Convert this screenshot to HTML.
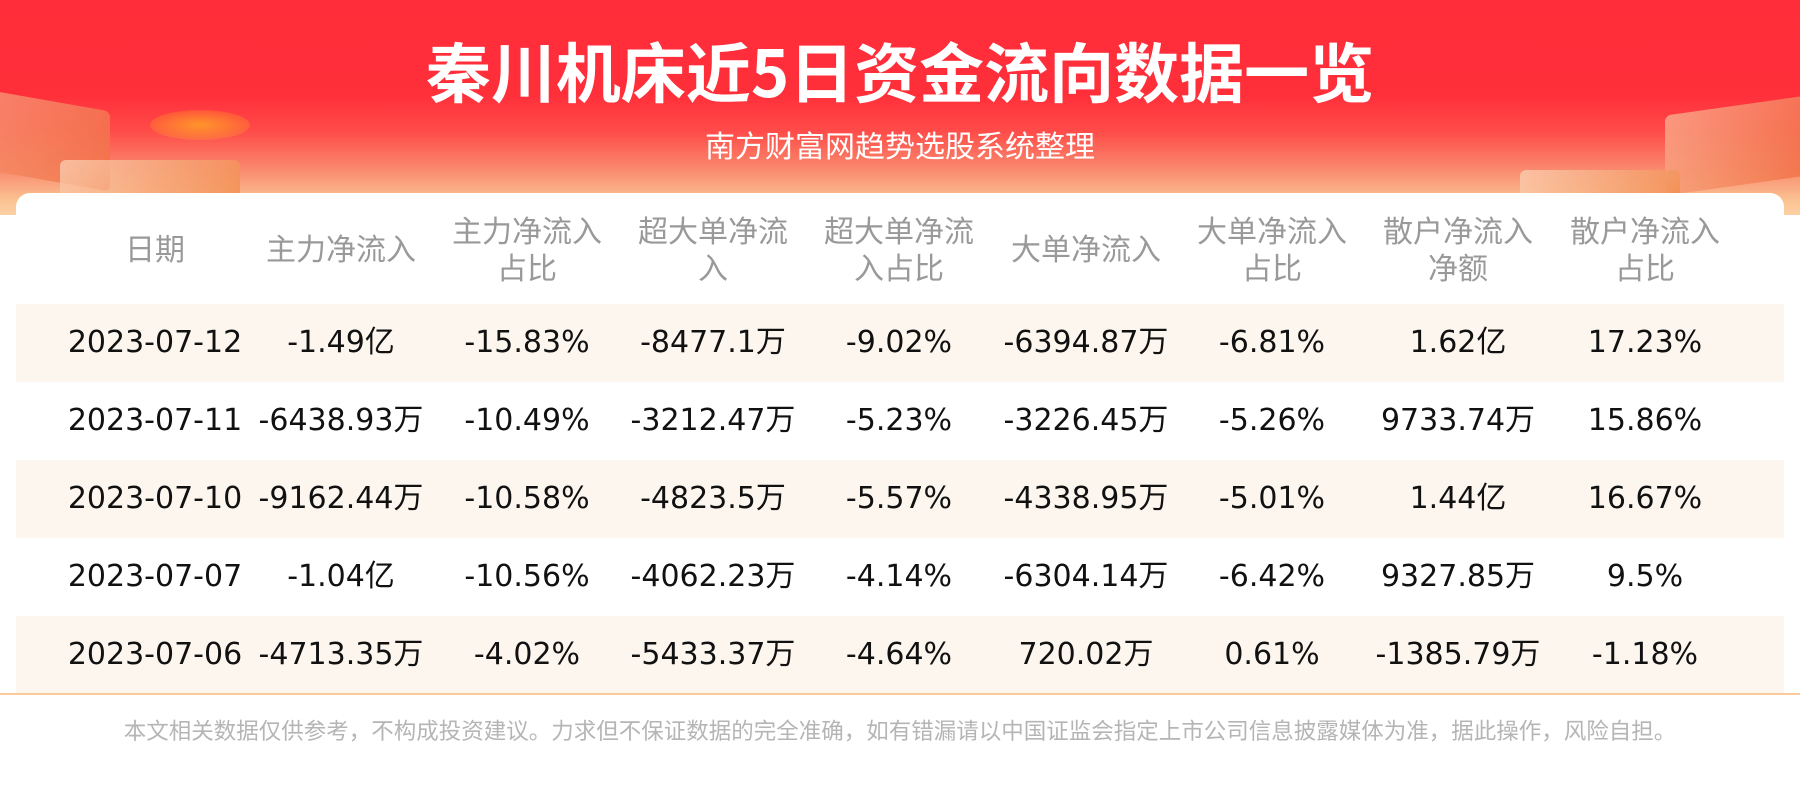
<!DOCTYPE html>
<html><head><meta charset="utf-8"><style>
html,body{margin:0;padding:0}
body{width:1800px;height:800px;position:relative;overflow:hidden;background:#fff;font-family:"DejaVu Sans","Noto Sans CJK SC",sans-serif}
.bg{position:absolute;left:0;top:0;width:1800px;height:215px;background:linear-gradient(180deg,#ff2d39 0px,#ff2f3a 95px,#ff4a48 130px,#f98a6e 170px,#fbc291 200px,#fcd0a4 215px)}
.deco{position:absolute;border-radius:6px;opacity:.75}
.title{position:absolute;left:0;width:1800px;top:29px;text-align:center;color:#fff;font-family:"Noto Sans CJK SC",sans-serif;font-weight:bold;font-size:65px;line-height:80px}
.sub{position:absolute;left:0;width:1800px;top:123px;text-align:center;color:#fff;font-family:"Noto Sans CJK SC",sans-serif;font-size:30px;line-height:42px}
.card{position:absolute;left:16px;top:193px;width:1768px;height:500px;background:#fff;border-radius:14px 14px 0 0}
.band{position:absolute;left:16px;width:1768px;height:78px;background:#fdf6ef}
.line{position:absolute;left:0;top:693px;width:1800px;height:2px;background:#fcc99a}
.row{position:absolute;left:0;height:40px}
.cell{position:absolute;width:186px;text-align:center;font-size:30px;color:#111;line-height:40px;white-space:nowrap}
.hd{position:absolute;width:186px;text-align:center;font-family:"Noto Sans CJK SC",sans-serif;font-size:30px;color:#999;line-height:37px}
.foot{position:absolute;left:0;width:1800px;top:714px;text-align:center;color:#b5b5b5;font-family:"Noto Sans CJK SC",sans-serif;font-size:22.5px;line-height:32px}
</style></head><body>
<div class="bg"></div>
<div class="deco" style="left:-20px;top:100px;width:130px;height:80px;background:linear-gradient(135deg,#f7a080,#f06a3c);transform:skewY(10deg)"></div>
<div class="deco" style="left:60px;top:160px;width:180px;height:40px;background:linear-gradient(135deg,#fbd2b6,#f28a4a)"></div>
<div class="deco" style="left:150px;top:110px;width:100px;height:30px;border-radius:50%;background:radial-gradient(#ffb020,rgba(255,120,40,0))"></div>
<div class="deco" style="left:1665px;top:105px;width:150px;height:80px;background:linear-gradient(135deg,#f9b595,#f06a3c);transform:skewY(-8deg)"></div>
<div class="deco" style="left:1520px;top:170px;width:160px;height:30px;background:linear-gradient(135deg,#fbd2b6,#f28a4a)"></div>
<div class="title">秦川机床近5日资金流向数据一览</div>
<div class="sub">南方财富网趋势选股系统整理</div>
<div class="card"></div>
<div class="band" style="top:304px"></div>
<div class="band" style="top:460px"></div>
<div class="band" style="top:616px"></div>
<div class="line"></div>

<div class="hd" style="left:62px;top:229px">日期</div>
<div class="hd" style="left:248px;top:229px">主力净流入</div>
<div class="hd" style="left:434px;top:211px">主力净流入<br>占比</div>
<div class="hd" style="left:620px;top:211px">超大单净流<br>入</div>
<div class="hd" style="left:806px;top:211px">超大单净流<br>入占比</div>
<div class="hd" style="left:993px;top:229px">大单净流入</div>
<div class="hd" style="left:1179px;top:211px">大单净流入<br>占比</div>
<div class="hd" style="left:1365px;top:211px">散户净流入<br>净额</div>
<div class="hd" style="left:1552px;top:211px">散户净流入<br>占比</div>

<div class="row" style="top:323px">
<div class="cell" style="left:62px">2023-07-12</div><div class="cell" style="left:248px">-1.49亿</div><div class="cell" style="left:434px">-15.83%</div><div class="cell" style="left:620px">-8477.1万</div><div class="cell" style="left:806px">-9.02%</div><div class="cell" style="left:993px">-6394.87万</div><div class="cell" style="left:1179px">-6.81%</div><div class="cell" style="left:1365px">1.62亿</div><div class="cell" style="left:1552px">17.23%</div>
</div>
<div class="row" style="top:401px">
<div class="cell" style="left:62px">2023-07-11</div><div class="cell" style="left:248px">-6438.93万</div><div class="cell" style="left:434px">-10.49%</div><div class="cell" style="left:620px">-3212.47万</div><div class="cell" style="left:806px">-5.23%</div><div class="cell" style="left:993px">-3226.45万</div><div class="cell" style="left:1179px">-5.26%</div><div class="cell" style="left:1365px">9733.74万</div><div class="cell" style="left:1552px">15.86%</div>
</div>
<div class="row" style="top:479px">
<div class="cell" style="left:62px">2023-07-10</div><div class="cell" style="left:248px">-9162.44万</div><div class="cell" style="left:434px">-10.58%</div><div class="cell" style="left:620px">-4823.5万</div><div class="cell" style="left:806px">-5.57%</div><div class="cell" style="left:993px">-4338.95万</div><div class="cell" style="left:1179px">-5.01%</div><div class="cell" style="left:1365px">1.44亿</div><div class="cell" style="left:1552px">16.67%</div>
</div>
<div class="row" style="top:557px">
<div class="cell" style="left:62px">2023-07-07</div><div class="cell" style="left:248px">-1.04亿</div><div class="cell" style="left:434px">-10.56%</div><div class="cell" style="left:620px">-4062.23万</div><div class="cell" style="left:806px">-4.14%</div><div class="cell" style="left:993px">-6304.14万</div><div class="cell" style="left:1179px">-6.42%</div><div class="cell" style="left:1365px">9327.85万</div><div class="cell" style="left:1552px">9.5%</div>
</div>
<div class="row" style="top:635px">
<div class="cell" style="left:62px">2023-07-06</div><div class="cell" style="left:248px">-4713.35万</div><div class="cell" style="left:434px">-4.02%</div><div class="cell" style="left:620px">-5433.37万</div><div class="cell" style="left:806px">-4.64%</div><div class="cell" style="left:993px">720.02万</div><div class="cell" style="left:1179px">0.61%</div><div class="cell" style="left:1365px">-1385.79万</div><div class="cell" style="left:1552px">-1.18%</div>
</div>
<div class="foot">本文相关数据仅供参考，不构成投资建议。力求但不保证数据的完全准确，如有错漏请以中国证监会指定上市公司信息披露媒体为准，据此操作，风险自担。</div>
</body></html>
